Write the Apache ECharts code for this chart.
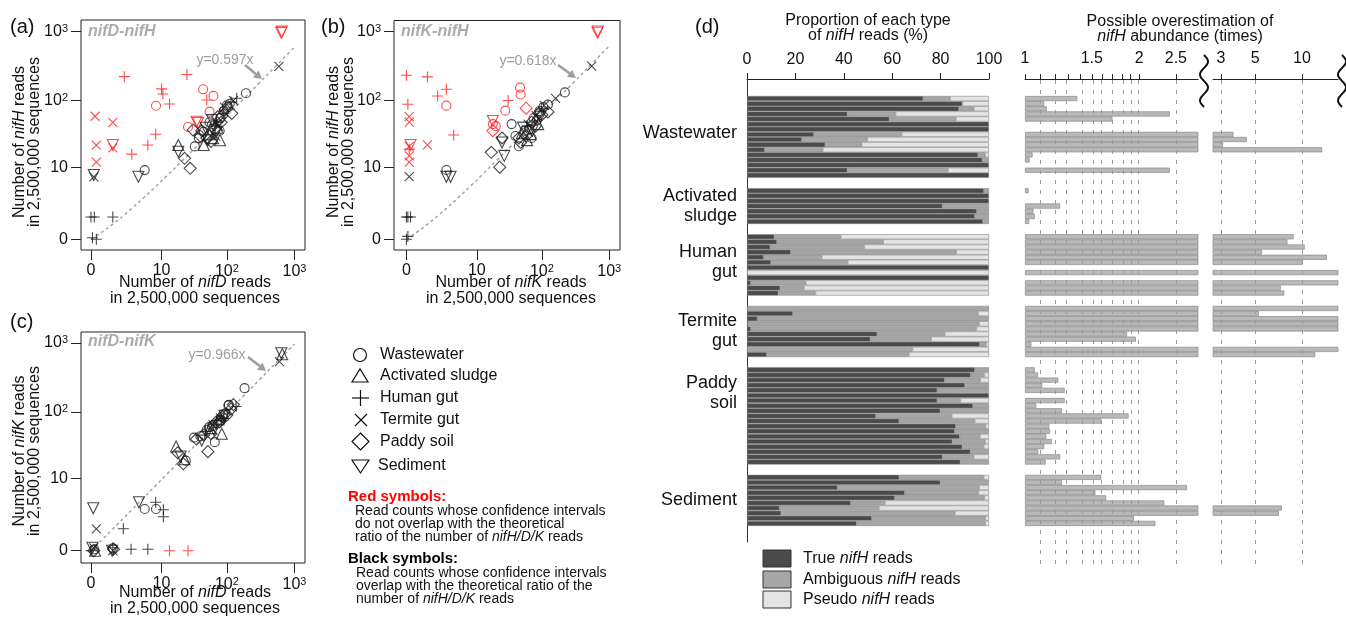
<!DOCTYPE html>
<html><head><meta charset="utf-8">
<script src="https://cdn.jsdelivr.net/npm/echarts@6/dist/echarts.min.js"></script>
<style>html,body{margin:0;padding:0;background:#fff}#c{width:1346px;height:622px}</style>
</head><body><div id="c"></div>
<script>
// ================= DATA =================
// log-like read-count axes (values are read counts, axis uses log10(count+1))
const countTicks = [0, 10, 100, 1000];
const countTickBase = ['0', '10', '10', '10'];
const countTickExp = ['', '', '2', '3'];
const shapeNames = ['Wastewater', 'Activated sludge', 'Human gut', 'Termite gut', 'Paddy soil', 'Sediment'];
// points: [shape index, x reads, y reads, red(1)/black(0)]
const panelA = [
 [5,650,1000,1],[5,640,960,1],
 [2,2.1,223,1],[2,25,240,1],[2,10,148,1],[2,10.5,125,1],[2,13.4,89,1],[2,50,102,1],[2,8,32,1],[2,5.9,22,1],[2,3,16,1],
 [3,0.15,59,1],[3,1.1,48,1],[3,0.2,22,1],[3,0.2,12,1],[3,1.1,20,1],[5,1.1,22,1],
 [0,8.1,84,1],[0,44,146,1],[0,63,117,1],[0,55,69,1],[0,26,41,1],[5,35,49,1],[5,37,47,1],
 [3,590,315,0],[0,192,128,0],[2,140,108,0],[3,125,100,0],[2,115,95,0],[4,118,65,0],[0,105,80,0],
 [1,79,26,0],[0,33,21,0],[1,18.4,22,0],[5,18.4,17.4,0],[4,23,13.8,0],[4,28,9.6,0],[4,31,37,0],
 [0,5.2,9,0],[5,4,7,0],[5,0.1,7.5,0],[3,0.1,7,0],
 [2,0,1.1,0],[2,0.12,1.1,0],[2,1.1,1.1,0],[2,0.05,0.05,0],[2,0.2,0,0],
 [4,40,30,0],[0,45,35,0],[4,50,28,0],[1,55,32,0],[5,48,40,0],[0,60,45,0],[4,65,38,0],[2,70,50,0],
 [3,75,42,0],[0,80,55,0],[4,85,60,0],[1,62,28,0],[5,70,35,0],[0,90,70,0],[4,95,75,0],[2,88,65,0],
 [0,55,48,0],[4,58,25,0],[3,68,30,0],[1,72,40,0],[0,78,36,0],[4,42,36,0],[5,52,26,0],[0,100,85,0],
 [4,73,58,0],[2,66,44,0],[0,38,28,0],[1,45,22,0],[4,82,48,0],[5,60,52,0],[3,92,80,0],[0,110,90,0]
];
const panelB = [
 [5,680,1000,1],[5,670,960,1],
 [2,0,233,1],[2,1.05,220,1],[2,1.9,116,1],[2,2.9,146,1],[2,0.05,88,1],[2,4,31,1],[2,31,100,1],[2,0.1,19,1],
 [3,0.1,58,1],[3,0.1,48,1],[3,0.1,21,1],[3,0.1,15,1],[3,0.1,12,1],[5,0.15,22,1],[3,1.05,22,1],
 [0,2.9,84,1],[0,47,154,1],[0,48,122,1],[0,28,71,1],[0,18,45,1],[0,20,42,1],[5,18,50,1],[4,18,36,1],[4,58,77,1],
 [3,550,315,0],[0,220,131,0],[3,160,107,0],[0,123,87,0],[4,123,68,0],[3,0.1,7,0],[0,2.9,9,0],[5,2.9,7,0],[5,3.5,7,0],
 [4,17,17,0],[4,23,10,0],[5,25,24,0],[4,25,28,0],[5,27,15,0],[0,35,45,0],[0,45,21,0],
 [2,0,1.1,0],[2,0.05,1.1,0],[2,0.15,1.1,0],[2,0,0,0],[2,0.05,0.1,0],
 [0,40,30,0],[4,45,28,0],[1,50,33,0],[5,52,40,0],[0,55,36,0],[4,58,30,0],[2,60,42,0],[3,62,45,0],
 [0,65,38,0],[1,68,32,0],[4,70,48,0],[5,72,36,0],[0,75,55,0],[2,78,50,0],[4,80,42,0],[3,82,60,0],
 [0,85,52,0],[1,88,45,0],[4,90,65,0],[0,92,70,0],[5,95,58,0],[2,98,75,0],[4,100,62,0],[0,105,80,0],
 [3,108,85,0],[1,60,26,0],[4,48,24,0],[0,70,28,0]
];
const panelC = [
 [2,13.4,0,1],[2,26,0,1],
 [5,640,710,0],[1,660,690,0],[3,600,540,0],[0,183,222,0],[2,137,120,0],[0,107,127,0],[4,125,128,0],[4,115,110,0],[0,105,125,0],
 [1,17,31,0],[4,18,25,0],[5,20,22,0],[4,22,17,0],[0,24,19,0],[1,23,20,0],[0,32,42,0],[4,35,40,0],
 [0,40,44,0],[5,42,38,0],[4,45,46,0],[2,48,52,0],[0,50,55,0],[4,52,26,0],[0,54,60,0],[1,56,58,0],
 [4,58,48,0],[0,60,62,0],[3,62,65,0],[5,64,55,0],[0,66,36,0],[4,68,70,0],[2,70,75,0],[0,72,68,0],
 [1,75,78,0],[4,78,72,0],[3,80,82,0],[0,82,76,0],[1,84,48,0],[4,86,85,0],[0,88,92,0],[2,90,80,0],
 [5,92,88,0],[0,95,96,0],[4,100,90,0],
 [5,0.08,3.1,0],[3,0.2,1.07,0],[2,2,1.07,0],[5,4.1,4,0],[0,5.2,3,0],[0,8.1,3,0],[2,8,4,0],[2,10.7,2.9,0],[2,10.7,2.1,0],
 [2,0,0,0],[3,0.1,0.1,0],[1,0.15,0,0],[5,0.05,0.1,0],[4,0.1,0,0],[0,0.12,0.05,0],
 [3,1.1,0,0],[2,1.1,0.1,0],[5,1.05,0,0],[4,1.15,0.05,0],[0,1.1,0.08,0],[2,2.9,0.05,0],[2,5.9,0.05,0]
];
const fitSlopes = [0.597, 0.618, 0.966];
const fitXs = [0,0.25,0.5,1,1.5,2,3,5,8,12,20,35,60,100,180,300,550,1000];

// panel (d): proportion (%) of true and ambiguous nifH reads per sample; the rest are pseudo reads
const groupNames = ['Wastewater', 'Activated\nsludge', 'Human\ngut', 'Termite\ngut', 'Paddy\nsoil', 'Sediment'];
const wwTrue = [72.8,89,87.6,41.5,58.8,100,100,27.7,22.7,32.3,7.4,95.5,97.3,100,41.5,100];
const wwAmb  = [11.2,0,6.1,19.9,27.5,0,0,36.2,27,15.1,23.9,2.9,2.7,0,41.5,0];
const asTrue = [97.9,100,100,80.8,95,94.2,97.5];
const asAmb  = [2.1,0,0,19.2,5,5.8,2.5];
const hgTrue = [11.3,12.4,9.6,18.1,6.9,9.9,100,0,100,1.6,13.7,13];
const hgAmb  = [27.4,43.9,38.8,68.4,24,31.7,0,0,0,22.7,9.8,15.3];
const tgTrue = [0,19,4.4,0.3,1.6,53.8,51,96.2,0,8.2];
const tgAmb  = [100,76.5,95.6,95.6,93.2,27.9,25.1,2.7,68.4,58.7];
const psTrue = [94.2,92.4,81.7,90.1,78.6,100,78.6,93.4,79.9,53.3,62.9,86.3,85.9,87.9,84.9,89,92.3,80.8,88.2];
const psAmb  = [5.8,5.7,14.7,9.9,21.4,0,9.6,6.6,20.1,31.3,31.2,12.3,14.1,8.3,13.5,8.8,7.7,12.9,11.8];
const sdTrue = [62.9,79.9,37.4,65.2,61.1,42.9,13.5,14.1,51.6,45.3];
const sdAmb  = [34.9,20.1,58.5,30.4,37,14.1,41,71.8,46.8,53.1];
const pctTicks = [0,20,40,60,80,100];
const overLabelsLeft = [1, 1.5, 2, 2.5];
const overMinorLeft = [1, 1.1, 1.2, 1.3, 1.4, 1.5, 1.6, 1.7, 1.8, 1.9, 2, 2.5];
const overGridLeft = [1.1, 1.2, 1.3, 1.4, 1.5, 1.6, 1.7, 1.8, 1.9, 2, 2.5];
const overLabelsRight = [3, 5, 10];
const breakLeftMax = 2.86, breakRightMin = 2.665, breakRightMax = 17.1;

// ================= BUILD =================
const FONT = '"Liberation Sans", Arial, Helvetica, sans-serif';
const RED = '#ff1f1f', BLACK = '#1a1a1a';
const T = v => Math.log10(v + 1);
const L = Math.log10;

function symbolFor(s) {
  switch (s) {
    case 0: return { symbol: 'circle', symbolSize: 9 };
    case 1: return { symbol: 'triangle', symbolSize: 11 };
    case 2: return { symbol: 'path://M0,5L10,5M5,0L5,10', symbolSize: 11 };
    case 3: return { symbol: 'path://M0,0L10,10M10,0L0,10', symbolSize: 9 };
    case 4: return { symbol: 'diamond', symbolSize: 12 };
    default: return { symbol: 'triangle', symbolSize: 11, symbolRotate: 180 };
  }
}
function pts(arr) {
  return arr.map(p => Object.assign({
    value: [T(p[1]), T(p[2])],
    itemStyle: { color: 'rgba(0,0,0,0)', borderColor: p[3] ? RED : BLACK, borderWidth: 1.1 }
  }, symbolFor(p[0])));
}
function fitLine(k) { return fitXs.map(x => [T(x), T(k * x)]); }

const countTickPos = countTicks.map(T);
function countLabel(v) {
  for (let i = 0; i < countTickPos.length; i++) if (Math.abs(countTickPos[i] - v) < 1e-6)
    return countTickExp[i] ? '{n|' + countTickBase[i] + '}{s|' + countTickExp[i] + '}' : '{n|' + countTickBase[i] + '}';
  return '';
}
const labelRich = { n: { fontSize: 16, fontFamily: FONT, color: '#111' }, s: { fontSize: 11, fontFamily: FONT, color: '#111', verticalAlign: 'top', padding: [0, 0, 6, 0] } };

function countAxis(grid, min, max, pos) {
  return {
    type: 'value', gridIndex: grid, min, max, position: pos,
    axisLine: { show: false, onZero: false },
    axisTick: { show: true, inside: false, length: 10, customValues: countTickPos, lineStyle: { color: '#222', width: 1 } },
    axisLabel: { show: true, margin: 13, customValues: countTickPos, formatter: countLabel, rich: labelRich },
    splitLine: { show: false }
  };
}

// rows for panel (d)
const groupData = [[wwTrue, wwAmb], [asTrue, asAmb], [hgTrue, hgAmb], [tgTrue, tgAmb], [psTrue, psAmb], [sdTrue, sdAmb]];
const rTrue = [], rAmb = [], rPseudo = [], rOver = [];
const nz = v => (v > 0 ? v : null);
groupData.forEach((g, gi) => {
  if (gi > 0) for (let k = 0; k < 2; k++) { rTrue.push(null); rAmb.push(null); rPseudo.push(null); rOver.push(null); }
  g[0].forEach((t, i) => {
    const a = g[1][i];
    rTrue.push(nz(t)); rAmb.push(nz(a)); rPseudo.push(nz(+(100 - t - a).toFixed(2)));
    rOver.push(t >= 100 ? null : (t <= 0 ? 3 : L(100 / t)));
  });
});
const cats = rTrue.map((_, i) => 'r' + i);

const grids = [
  { left: 81, top: 20, width: 224, height: 230, show: true, borderColor: '#222', borderWidth: 1, backgroundColor: 'transparent' },
  { left: 394, top: 20.5, width: 226, height: 229.5, show: true, borderColor: '#222', borderWidth: 1, backgroundColor: 'transparent' },
  { left: 81, top: 332, width: 224, height: 231, show: true, borderColor: '#222', borderWidth: 1, backgroundColor: 'transparent' },
  { left: 747, top: 79, width: 242, height: 463 },
  { left: 747, top: 96, width: 242, height: 430 },
  { left: 1025, top: 79, width: 173, height: 485 },
  { left: 1025, top: 96, width: 173, height: 430 },
  { left: 1213, top: 79, width: 125, height: 485 },
  { left: 1213, top: 96, width: 125, height: 430 }
].map(g => Object.assign({ containLabel: false, outerBoundsMode: 'none' }, g));

function fmtFrom(positions, labels) {
  return v => { for (let i = 0; i < positions.length; i++) if (Math.abs(positions[i] - v) < 1e-6) return labels[i]; return ''; };
}
const leftLabelPos = overLabelsLeft.map(L), rightLabelPos = overLabelsRight.map(L);
const hidden = { show: false };
const topLine = { show: true, onZero: false, lineStyle: { color: '#222', width: 1 } };
const xAxes = [
  countAxis(0, -0.147, 3.156, 'bottom'),
  countAxis(1, -0.184, 3.16, 'bottom'),
  countAxis(2, -0.147, 3.156, 'bottom'),
  { type: 'value', gridIndex: 3, min: 0, max: 100, interval: 20, position: 'top',
    axisLine: topLine,
    axisTick: { show: true, length: 6, lineStyle: { color: '#222' } },
    axisLabel: { fontSize: 16, fontFamily: FONT, color: '#111', margin: 11 }, splitLine: hidden },
  { type: 'value', gridIndex: 4, min: 0, max: 100, show: false, axisLine: { onZero: false } },
  { type: 'value', gridIndex: 5, min: 0, max: L(breakLeftMax), position: 'top',
    axisLine: topLine,
    axisTick: { show: true, length: 5, customValues: overMinorLeft.map(L), lineStyle: { color: '#222' } },
    axisLabel: { fontSize: 16, fontFamily: FONT, color: '#111', margin: 12, customValues: leftLabelPos, formatter: fmtFrom(leftLabelPos, overLabelsLeft.map(String)) },
    splitLine: hidden },
  { type: 'value', gridIndex: 6, min: 0, max: L(breakLeftMax), show: false, axisLine: { onZero: false } },
  { type: 'value', gridIndex: 7, min: L(breakRightMin), max: L(breakRightMax), position: 'top',
    axisLine: topLine,
    axisTick: { show: true, length: 5, customValues: rightLabelPos, lineStyle: { color: '#222' } },
    axisLabel: { fontSize: 16, fontFamily: FONT, color: '#111', margin: 12, customValues: rightLabelPos, formatter: fmtFrom(rightLabelPos, overLabelsRight.map(String)) },
    splitLine: hidden },
  { type: 'value', gridIndex: 8, min: L(breakRightMin), max: L(breakRightMax), show: false, axisLine: { onZero: false } }
];
const catAxis = gi => ({ type: 'category', gridIndex: gi, data: cats, inverse: true, show: false, boundaryGap: true, axisLine: { onZero: false } });
const yAxes = [
  countAxis(0, -0.155, 3.169, 'left'),
  countAxis(1, -0.155, 3.159, 'left'),
  countAxis(2, -0.178, 3.16, 'left'),
  { type: 'value', gridIndex: 3, min: 0, max: 1, position: 'left', axisLine: { show: true, onZero: false, lineStyle: { color: '#333', width: 1 } }, axisTick: hidden, axisLabel: hidden, splitLine: hidden },
  catAxis(4),
  { type: 'value', gridIndex: 5, min: 0, max: 1, show: false, axisLine: { onZero: false } },
  catAxis(6),
  { type: 'value', gridIndex: 7, min: 0, max: 1, show: false, axisLine: { onZero: false } },
  catAxis(8)
];

const series = [];
[panelA, panelB, panelC].forEach((p, i) => {
  series.push({ type: 'line', xAxisIndex: i, yAxisIndex: i, data: fitLine(fitSlopes[i]), smooth: true, showSymbol: false, symbol: 'none',
    lineStyle: { color: '#a8a8a8', width: 1.6, type: [3, 3] }, z: 1, silent: true });
  series.push({ type: 'scatter', xAxisIndex: i, yAxisIndex: i, data: pts(p), z: 3 });
});
const barSeg = (name, data, color) => ({ name, type: 'bar', stack: 'p', xAxisIndex: 4, yAxisIndex: 4, data, barCategoryGap: 0, barWidth: '100%',
  itemStyle: { color, borderColor: '#8a8a8a', borderWidth: 0.6 }, silent: true });
series.push(barSeg('True', rTrue, '#4a4a4a'));
series.push(barSeg('Ambiguous', rAmb, '#a6a6a6'));
series.push(barSeg('Pseudo', rPseudo, '#e4e4e4'));
[6, 8].forEach(ax => {
  series.push({ type: 'bar', xAxisIndex: ax, yAxisIndex: ax, data: rOver, barWidth: '100%', clip: true,
    itemStyle: { color: '#b9b9b9', borderColor: '#8a8a8a', borderWidth: 0.7 }, silent: true, z: 2 });
});
const gridLineSeries = (ax, vals) => ({ type: 'scatter', xAxisIndex: ax, yAxisIndex: ax, data: [], z: 10, silent: true,
  markLine: { silent: true, symbol: ['none', 'none'], label: { show: false }, animation: false,
    lineStyle: { color: '#9a9a9a', width: 1, type: [4, 6] }, data: vals.map(v => ({ xAxis: L(v) })) } });
series.push(gridLineSeries(5, overGridLeft));
series.push(gridLineSeries(7, overLabelsRight));

// ================= GRAPHICS (text & decoration) =================
const G = [];
function txt(x, y, text, o = {}) {
  const st = { text, fill: o.fill || '#111', fontSize: o.size || 16, fontFamily: FONT, fontWeight: o.weight || 'normal',
    fontStyle: o.style || 'normal', align: o.align || 'left', verticalAlign: o.va || 'middle' };
  if (o.rich) st.rich = o.rich;
  if (o.lh) st.lineHeight = o.lh;
  G.push({ type: 'text', x, y, rotation: o.rot || 0, z: 100, style: st });
}
function rich(size, extra) {
  return Object.assign({ n: { fontSize: size, fontFamily: FONT, fill: '#111' }, i: { fontSize: size, fontFamily: FONT, fontStyle: 'italic', fill: '#111' } }, extra || {});
}
function arrow(x1, y1, x2, y2) {
  const dx = x2 - x1, dy = y2 - y1, len = Math.hypot(dx, dy), ux = dx / len, uy = dy / len;
  const bx = x2 - ux * 8, by = y2 - uy * 8, nx = -uy * 4.5, ny = ux * 4.5;
  G.push({ type: 'line', z: 90, shape: { x1, y1, x2: bx, y2: by }, style: { stroke: '#9d9d9d', lineWidth: 2.6 } });
  G.push({ type: 'polygon', z: 90, shape: { points: [[x2, y2], [bx + nx, by + ny], [bx - nx, by - ny]] }, style: { fill: '#9d9d9d' } });
}
// panel letters
txt(10, 27, '(a)', { size: 20 }); txt(321, 27, '(b)', { size: 20 }); txt(10, 322, '(c)', { size: 20 }); txt(695, 27, '(d)', { size: 20 });
// inner titles
const ttl = { size: 16, weight: 'bold', style: 'italic', fill: '#ababab' };
txt(88, 32, 'nifD-nifH', ttl); txt(401, 32, 'nifK-nifH', ttl); txt(88, 342, 'nifD-nifK', ttl);
// fit labels and arrows
const fitStyle = { size: 14, fill: '#9d9d9d', align: 'center' };
txt(225, 60, 'y=' + fitSlopes[0] + 'x', fitStyle); arrow(245, 65, 262, 79);
txt(528, 61, 'y=' + fitSlopes[1] + 'x', fitStyle); arrow(558, 65, 576, 78);
txt(217, 355, 'y=' + fitSlopes[2] + 'x', fitStyle); arrow(248, 357, 266, 371);
// axis names
const R16 = rich(16);
function yName(x1, x2, y, gene) {
  txt(x1, y, '{n|Number of }{i|' + gene + '}{n| reads}', { rot: Math.PI / 2, align: 'center', rich: R16 });
  txt(x2, y, 'in 2,500,000 sequences', { rot: Math.PI / 2, align: 'center' });
}
function xName(x, y1, y2, gene) {
  txt(x, y1, '{n|Number of }{i|' + gene + '}{n| reads}', { align: 'center', rich: R16 });
  txt(x, y2, 'in 2,500,000 sequences', { align: 'center' });
}
yName(20, 35, 142, 'nifH'); xName(195, 283, 299, 'nifD');
yName(334, 349, 142, 'nifH'); xName(511, 283, 299, 'nifK');
yName(20, 35, 451, 'nifK'); xName(195, 593, 609, 'nifD');
// scatter legend
const sk = { stroke: '#111', lineWidth: 1.2, fill: 'none' };
G.push({ type: 'circle', z: 90, shape: { cx: 360, cy: 355, r: 6.5 }, style: sk });
G.push({ type: 'polygon', z: 90, shape: { points: [[352, 382], [368, 382], [360, 369]] }, style: sk });
G.push({ type: 'line', z: 90, shape: { x1: 352, y1: 398, x2: 369, y2: 398 }, style: sk });
G.push({ type: 'line', z: 90, shape: { x1: 360.5, y1: 390, x2: 360.5, y2: 406 }, style: sk });
G.push({ type: 'line', z: 90, shape: { x1: 355, y1: 414, x2: 367, y2: 426 }, style: sk });
G.push({ type: 'line', z: 90, shape: { x1: 367, y1: 414, x2: 355, y2: 426 }, style: sk });
G.push({ type: 'polygon', z: 90, shape: { points: [[360.5, 433], [369, 441.5], [360.5, 450], [352, 441.5]] }, style: sk });
G.push({ type: 'polygon', z: 90, shape: { points: [[352, 460], [369, 460], [360.5, 473]] }, style: sk });
const legY = [355, 376, 398, 420, 442, 466];
shapeNames.forEach((n, i) => txt(i === 5 ? 378 : 380, legY[i], n, { size: 16 }));
txt(348, 497, 'Red symbols:', { size: 15, weight: 'bold', fill: '#ff0000' });
const R14 = rich(14);
txt(355, 511.5, 'Read counts whose confidence intervals', { size: 14 });
txt(355, 524.5, 'do not overlap with the theoretical', { size: 14 });
txt(355, 537.5, '{n|ratio of the number of }{i|nifH/D/K}{n| reads}', { rich: R14 });
txt(348, 559, 'Black symbols:', { size: 15, weight: 'bold', fill: '#000' });
txt(356, 573, 'Read counts whose confidence intervals', { size: 14 });
txt(356, 586, 'overlap with the theoretical ratio of the', { size: 14 });
txt(356, 599, '{n|number of }{i|nifH/D/K}{n| reads}', { rich: R14 });
// panel d titles
txt(868, 21, 'Proportion of each type', { align: 'center' });
txt(868, 36, '{n|of }{i|nifH}{n| reads (%)}', { align: 'center', rich: R16 });
txt(1180, 22, 'Possible overestimation of', { align: 'center' });
txt(1180, 37, '{i|nifH}{n| abundance (times)}', { align: 'center', rich: R16 });
// group labels
const groupLabelY = [133, 206, 262, 331, 393, 500];
groupNames.forEach((n, i) => txt(737, groupLabelY[i], n, { size: 18, align: 'right', lh: 20 }));
// legend for d
const swFill = ['#4a4a4a', '#a6a6a6', '#e4e4e4'];
const swText = ['True', 'Ambiguous', 'Pseudo'];
[550, 571, 591].forEach((y, i) => {
  G.push({ type: 'rect', z: 90, shape: { x: 763, y, width: 28, height: 17 }, style: { fill: swFill[i], stroke: '#333', lineWidth: 1 } });
  txt(803, y + 8.5, '{n|' + swText[i] + ' }{i|nifH}{n| reads}', { rich: R16 });
});
// axis break marks
function wave(cx, y0, y1) {
  const p = [];
  for (let k = 0; k <= 40; k++) { const y = y0 + (y1 - y0) * k / 40; p.push([cx + 4 * Math.sin(2 * Math.PI * 2 * k / 40), y]); }
  G.push({ type: 'polyline', z: 95, shape: { points: p, smooth: 0.3 }, style: { stroke: '#111', lineWidth: 2, fill: 'none' } });
}
wave(1204, 55, 107); wave(1342, 55, 107);

const chart = echarts.init(document.getElementById('c'), null, { renderer: 'canvas' });
chart.setOption({ animation: false, backgroundColor: '#fff', grid: grids, xAxis: xAxes, yAxis: yAxes, series, graphic: { elements: G } });
</script></body></html>
